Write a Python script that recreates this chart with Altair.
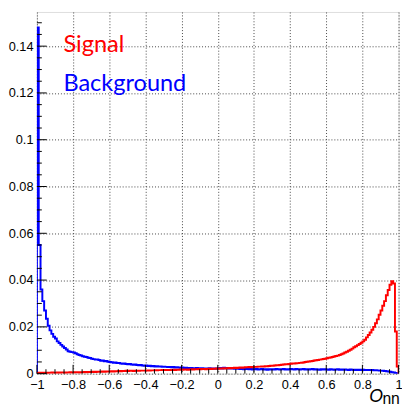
import altair as alt
import pandas as pd

# Histogram: 200 bins from -1 to 1
BIN_LO = -1.0
BIN_W = 0.01

background = [
    0.148, 0.055, 0.036, 0.031, 0.027, 0.0235, 0.0205, 0.0185, 0.0170, 0.0158,
    0.0150, 0.0138, 0.0131, 0.0123, 0.0116, 0.0110, 0.0103, 0.0096, 0.0094, 0.0092,
    0.0090, 0.0087, 0.0083, 0.0080, 0.0078, 0.0074, 0.0072, 0.0071, 0.0068, 0.0067,
    0.0064, 0.0062, 0.0060, 0.0061, 0.0058, 0.0055, 0.0056, 0.0053, 0.0054, 0.0051,
    0.0050, 0.0049, 0.0047, 0.0048, 0.0045, 0.0046, 0.0043, 0.0042, 0.0043, 0.0041,
    0.0040, 0.0041, 0.0039, 0.0038, 0.0039, 0.0037, 0.0036, 0.0037, 0.0035, 0.0034,
    0.0035, 0.0033, 0.0034, 0.0032, 0.0033, 0.0031, 0.0032, 0.0030, 0.0031, 0.0029,
    0.0030, 0.0029, 0.0028, 0.0029, 0.0027, 0.0028, 0.0026, 0.0027, 0.0026, 0.0025,
    0.0026, 0.0024, 0.0025, 0.0024, 0.0023, 0.0024, 0.0023, 0.0022, 0.0024, 0.0023,
    0.0022, 0.0023, 0.0022, 0.0021, 0.0022, 0.0023, 0.0021, 0.0022, 0.0021, 0.0022,
    0.0023, 0.0024, 0.0022, 0.0025, 0.0023, 0.0024, 0.0022, 0.0023, 0.0022, 0.0021,
    0.0022, 0.0021, 0.0020, 0.0021, 0.0019, 0.0020, 0.0021, 0.0019, 0.0020, 0.0018,
    0.0019, 0.0020, 0.0018, 0.0019, 0.0020, 0.0018, 0.0019, 0.0017, 0.0019, 0.0018,
    0.0019, 0.0018, 0.0020, 0.0019, 0.0018, 0.0019, 0.0020, 0.0018, 0.0019, 0.0018,
    0.0020, 0.0019, 0.0018, 0.0020, 0.0019, 0.0018, 0.0019, 0.0020, 0.0018, 0.0019,
    0.0018, 0.0019, 0.0020, 0.0018, 0.0019, 0.0018, 0.0017, 0.0019, 0.0018, 0.0019,
    0.0018, 0.0017, 0.0019, 0.0018, 0.0017, 0.0018, 0.0019, 0.0017, 0.0018, 0.0017,
    0.0018, 0.0017, 0.0016, 0.0018, 0.0017, 0.0016, 0.0017, 0.0016, 0.0017, 0.0016,
    0.0017, 0.0016, 0.0015, 0.0016, 0.0015, 0.0016, 0.0014, 0.0015, 0.0014, 0.0013,
    0.0013, 0.0012, 0.0011, 0.0010, 0.0009, 0.0008, 0.0006, 0.0005, 0.0003, 0.0001,
]

signal = [
    0.0003, 0.0004, 0.0003, 0.0004, 0.0004, 0.0003, 0.0004, 0.0004, 0.0005, 0.0004,
    0.0004, 0.0005, 0.0004, 0.0005, 0.0005, 0.0004, 0.0005, 0.0005, 0.0006, 0.0005,
    0.0005, 0.0006, 0.0006, 0.0005, 0.0006, 0.0006, 0.0007, 0.0006, 0.0007, 0.0007,
    0.0007, 0.0008, 0.0007, 0.0008, 0.0008, 0.0008, 0.0009, 0.0008, 0.0009, 0.0009,
    0.0009, 0.0010, 0.0009, 0.0010, 0.0010, 0.0011, 0.0010, 0.0011, 0.0011, 0.0012,
    0.0011, 0.0012, 0.0012, 0.0011, 0.0012, 0.0013, 0.0012, 0.0013, 0.0013, 0.0013,
    0.0013, 0.0014, 0.0013, 0.0014, 0.0014, 0.0015, 0.0014, 0.0015, 0.0015, 0.0016,
    0.0015, 0.0016, 0.0016, 0.0015, 0.0016, 0.0017, 0.0016, 0.0017, 0.0017, 0.0018,
    0.0017, 0.0018, 0.0018, 0.0017, 0.0018, 0.0019, 0.0018, 0.0019, 0.0019, 0.0020,
    0.0019, 0.0020, 0.0020, 0.0019, 0.0020, 0.0021, 0.0020, 0.0021, 0.0021, 0.0022,
    0.0021, 0.0022, 0.0022, 0.0023, 0.0022, 0.0023, 0.0024, 0.0023, 0.0024, 0.0025,
    0.0024, 0.0025, 0.0026, 0.0025, 0.0026, 0.0027, 0.0027, 0.0028, 0.0027, 0.0028,
    0.0029, 0.0029, 0.0030, 0.0030, 0.0031, 0.0031, 0.0032, 0.0032, 0.0033, 0.0034,
    0.0034, 0.0035, 0.0036, 0.0036, 0.0037, 0.0038, 0.0039, 0.0040, 0.0040, 0.0041,
    0.0042, 0.0043, 0.0043, 0.0044, 0.0045, 0.0046, 0.0047, 0.0048, 0.0050, 0.0051,
    0.0052, 0.0053, 0.0054, 0.0056, 0.0057, 0.0058, 0.0060, 0.0061, 0.0063, 0.0064,
    0.0066, 0.0068, 0.0069, 0.0071, 0.0073, 0.0075, 0.0077, 0.0080, 0.0083, 0.0086,
    0.0090, 0.0094, 0.0098, 0.0102, 0.0107, 0.0113, 0.0117, 0.0122, 0.0127, 0.0132,
    0.0138, 0.0145, 0.0155, 0.0165, 0.0176, 0.0188, 0.0200, 0.0215, 0.0232, 0.0252,
    0.0270, 0.0290, 0.0310, 0.0335, 0.0358, 0.0380, 0.0395, 0.0385, 0.0180, 0.0030,
]

x_major = [-1.0, -0.8, -0.6, -0.4, -0.2, 0.0, 0.2, 0.4, 0.6, 0.8, 1.0]
x_minor = [-0.95, -0.9, -0.85, -0.75, -0.7, -0.65, -0.55, -0.5, -0.45, -0.35, -0.3, -0.25,
           -0.15, -0.1, -0.05, 0.05, 0.1, 0.15, 0.25, 0.3, 0.35, 0.45, 0.5, 0.55,
           0.65, 0.7, 0.75, 0.85, 0.9, 0.95]
y_major = [0.0, 0.02, 0.04, 0.06, 0.08, 0.10, 0.12, 0.14]
y_minor = [0.005, 0.01, 0.015, 0.025, 0.03, 0.035, 0.045, 0.05, 0.055, 0.065, 0.07, 0.075,
           0.085, 0.09, 0.095, 0.105, 0.11, 0.115, 0.125, 0.13, 0.135, 0.145, 0.15]

Y_MAX = 0.1546
W, H = 369, 369


def step_frame(values, name):
    rows = []
    n = len(values)
    rows.append({"x": BIN_LO, "y": 0.0, "s": name, "o": 0})
    for i, v in enumerate(values):
        rows.append({"x": BIN_LO + i * BIN_W, "y": v, "s": name, "o": i + 1})
    rows.append({"x": BIN_LO + n * BIN_W, "y": values[-1], "s": name, "o": n + 1})
    rows.append({"x": BIN_LO + n * BIN_W, "y": 0.0, "s": name, "o": n + 2})
    return pd.DataFrame(rows)


df = pd.concat([step_frame(background, "Background"), step_frame(signal, "Signal")])

xs = alt.Scale(domain=[-1, 1], nice=False, zero=False)
ys = alt.Scale(domain=[0, Y_MAX], nice=False, zero=False)

common = dict(grid=True, ticks=False, domain=False, labelFont="Liberation Sans",
              labelFontSize=13, labelColor="black", title=None,
              gridDash=[1, 2], gridColor="#444", gridWidth=1,
              labelExpr="format(datum.value, '~g')", labelFlush=False, labelOverlap=False)
xaxis = alt.Axis(values=x_major, labelPadding=5, **common)
yaxis = alt.Axis(values=y_major, labelPadding=4, **common)

lines = alt.Chart(df).mark_line(interpolate="step-after", strokeWidth=2, clip=True).encode(
    x=alt.X("x:Q", scale=xs, axis=xaxis),
    y=alt.Y("y:Q", scale=ys, axis=yaxis),
    color=alt.Color("s:N", scale=alt.Scale(domain=["Signal", "Background"], range=["#ff0000", "#0000ff"]), legend=None),
    order="o:Q",
    detail="s:N",
)

xmaj = alt.Chart(pd.DataFrame({"t": x_major})).mark_rule(color="black", strokeWidth=1).encode(
    x=alt.X("t:Q", scale=xs, axis=xaxis), y=alt.value(H), y2=alt.value(H - 9))
xmin = alt.Chart(pd.DataFrame({"t": x_minor})).mark_rule(color="black", strokeWidth=1).encode(
    x=alt.X("t:Q", scale=xs, axis=xaxis), y=alt.value(H), y2=alt.value(H - 4.5))
ymaj = alt.Chart(pd.DataFrame({"t": y_major})).mark_rule(color="black", strokeWidth=1).encode(
    y=alt.Y("t:Q", scale=ys, axis=yaxis), x=alt.value(0), x2=alt.value(10))
ymin = alt.Chart(pd.DataFrame({"t": y_minor})).mark_rule(color="black", strokeWidth=1).encode(
    y=alt.Y("t:Q", scale=ys, axis=yaxis), x=alt.value(0), x2=alt.value(5))

leg_sig = alt.Chart(pd.DataFrame({"t": ["Signal"]})).mark_text(
    align="left", baseline="alphabetic", font="Lato", fontSize=24, color="#ff0000").encode(
    text="t:N", x=alt.value(27), y=alt.value(41))
leg_bkg = alt.Chart(pd.DataFrame({"t": ["Background"]})).mark_text(
    align="left", baseline="alphabetic", font="Lato", fontSize=24, color="#0000ff").encode(
    text="t:N", x=alt.value(27), y=alt.value(81))

t_o = alt.Chart(pd.DataFrame({"t": ["O"]})).mark_text(
    align="left", baseline="alphabetic", font="Liberation Sans", fontSize=18, fontStyle="italic",
    color="black").encode(text="t:N", x=alt.value(339), y=alt.value(398))
t_nn = alt.Chart(pd.DataFrame({"t": ["nn"]})).mark_text(
    align="left", baseline="alphabetic", font="Liberation Sans", fontSize=16, color="black").encode(
    text="t:N", x=alt.value(352.5), y=alt.value(400))

chart = alt.layer(lines, xmaj, xmin, ymaj, ymin, leg_sig, leg_bkg, t_o, t_nn).properties(
    width=W, height=H,
    autosize=alt.AutoSizeParams(type="none"),
    padding={"left": 29.5, "top": 0, "right": 3.5, "bottom": 32},
).configure_view(stroke="black", strokeWidth=1.5).configure(background="white")

chart.save("out.html", embed_options={"renderer": "svg", "actions": False})
